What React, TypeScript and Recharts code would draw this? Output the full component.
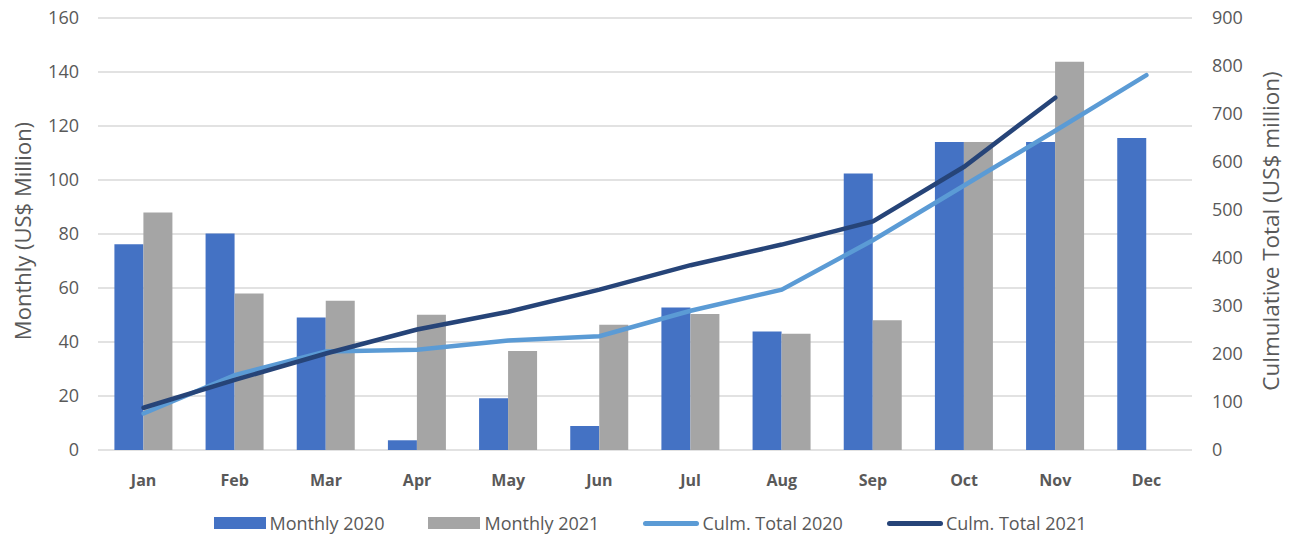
import React from "react";
import { ComposedChart, Bar, Line, XAxis, YAxis, CartesianGrid, Legend, Label } from "recharts";

const months = ["Jan", "Feb", "Mar", "Apr", "May", "Jun", "Jul", "Aug", "Sep", "Oct", "Nov", "Dec"];
const monthly2020 = [76.2, 80.2, 49.1, 3.6, 19.2, 8.9, 52.8, 43.9, 102.4, 114.1, 114.1, 115.6];
const monthly2021 = [88, 58, 55.3, 50.1, 36.7, 46.4, 50.4, 43.1, 48.1, 114.1, 143.8, null];
const culm2020 = [76, 156, 205, 209, 228, 237, 290, 334, 437, 551, 665, 781];
const culm2021 = [88, 146, 201, 251, 288, 334, 385, 428, 476, 590, 734, null];

const leftTicks = [0, 20, 40, 60, 80, 100, 120, 140, 160];
const rightTicks = [0, 100, 200, 300, 400, 500, 600, 700, 800, 900];

const data = months.map((m, i) => ({
    month: m,
    m2020: monthly2020[i],
    m2021: monthly2021[i],
    c2020: culm2020[i],
    c2021: culm2021[i],
}));

const FONT = "'Open Sans', sans-serif";
const TEXT = "#595959";

const legendItems = [
    { name: "Monthly 2020", color: "#4472C4", kind: "bar" },
    { name: "Monthly 2021", color: "#A5A5A5", kind: "bar" },
    { name: "Culm. Total 2020", color: "#5B9BD5", kind: "line" },
    { name: "Culm. Total 2021", color: "#264478", kind: "line" },
];

const AxisTitle = (props: any) => {
    const { viewBox, value, dx, size } = props;
    const cx = viewBox.x + dx;
    const cy = viewBox.y + viewBox.height / 2 - 3;
    return (
        <text
            x={cx}
            y={cy}
            transform={`rotate(-90 ${cx} ${cy})`}
            textAnchor="middle"
            dominantBaseline="central"
            fill={TEXT}
            fontSize={size}
            fontFamily={FONT}
        >
            {value}
        </text>
    );
};

const renderLegend = () => (
    <div
        style={{
            display: "flex",
            justifyContent: "center",
            fontFamily: FONT,
            fontSize: 18,
            color: TEXT,
            paddingTop: 14,
            paddingLeft: 8,
        }}
    >
        {legendItems.map((it) => (
            <div key={it.name} style={{ display: "flex", alignItems: "center", margin: "0 22px" }}>
                {it.kind === "bar" ? (
                    <span style={{ display: "inline-block", width: 52, height: 12, background: it.color, marginRight: 4 }} />
                ) : (
                    <span style={{ display: "inline-block", width: 56, height: 5, borderRadius: 3, background: it.color, marginRight: 3 }} />
                )}
                <span>{it.name}</span>
            </div>
        ))}
    </div>
);

const App: React.FC = () => {
    return (
        <div style={{ position: "absolute", left: 0, top: 0, background: "#fff" }}>
            <ComposedChart
                width={1292}
                height={540}
                data={data}
                margin={{ top: 18, right: 0, left: 0, bottom: 8 }}
                barCategoryGap="18%"
                barGap={0}
            >
                <CartesianGrid yAxisId="left" vertical={false} stroke="#D9D9D9" strokeWidth={1.3} />
                <XAxis
                    dataKey="month"
                    height={47}
                    axisLine={false}
                    tickLine={false}
                    tickSize={0}
                    tickMargin={25}
                    tick={{ fill: TEXT, fontSize: 16, fontWeight: 700, fontFamily: FONT }}
                />
                <YAxis
                    yAxisId="left"
                    width={98}
                    domain={[0, 160]}
                    ticks={leftTicks}
                    axisLine={false}
                    tickLine={false}
                    tickSize={0}
                    tickMargin={19}
                    tick={{ fill: TEXT, fontSize: 18, fontFamily: FONT }}
                >
                    <Label content={(p: any) => <AxisTitle {...p} value="Monthly (US$ Million)" dx={22} size={22} />} />
                </YAxis>
                <YAxis
                    yAxisId="right"
                    orientation="right"
                    width={100}
                    domain={[0, 900]}
                    ticks={rightTicks}
                    axisLine={false}
                    tickLine={false}
                    tickSize={0}
                    tickMargin={20}
                    tick={{ fill: TEXT, fontSize: 18, fontFamily: FONT, textAnchor: "start" }}
                >
                    <Label content={(p: any) => <AxisTitle {...p} value="Culmulative Total (US$ million)" dx={78} size={22.5} />} />
                </YAxis>
                <Legend verticalAlign="bottom" height={35} content={renderLegend} />
                <Bar yAxisId="left" dataKey="m2020" name="Monthly 2020" fill="#4472C4" isAnimationActive={false} />
                <Bar yAxisId="left" dataKey="m2021" name="Monthly 2021" fill="#A5A5A5" isAnimationActive={false} />
                <Line
                    yAxisId="right"
                    dataKey="c2020"
                    name="Culm. Total 2020"
                    stroke="#5B9BD5"
                    strokeWidth={4.5}
                    strokeLinecap="round"
                    dot={false}
                    isAnimationActive={false}
                />
                <Line
                    yAxisId="right"
                    dataKey="c2021"
                    name="Culm. Total 2021"
                    stroke="#264478"
                    strokeWidth={4.5}
                    strokeLinecap="round"
                    dot={false}
                    isAnimationActive={false}
                />
            </ComposedChart>
        </div>
    );
};

export default App;
